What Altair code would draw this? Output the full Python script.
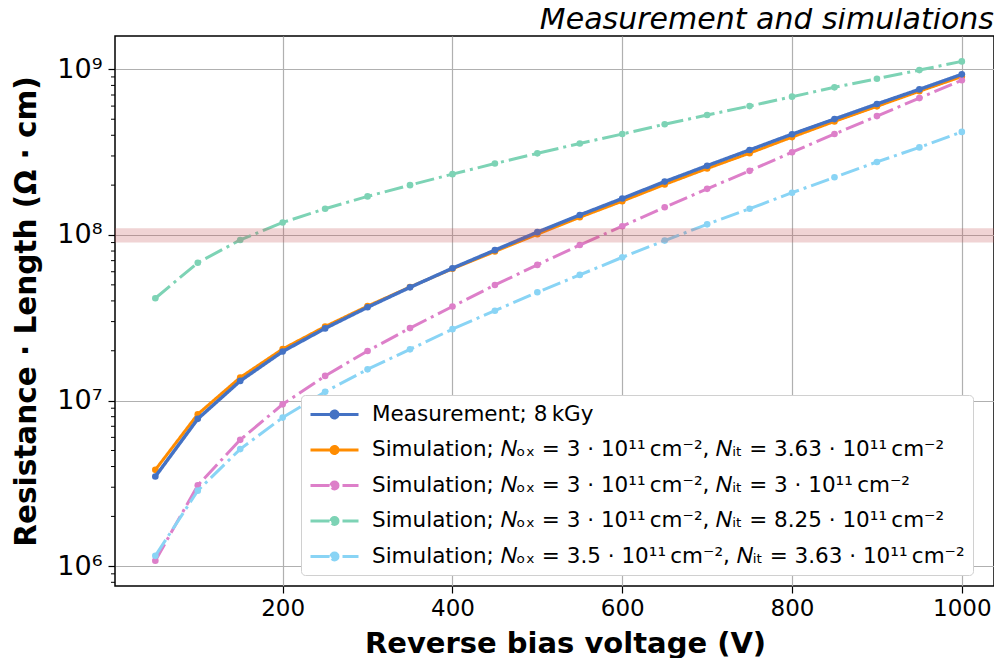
import altair as alt
import pandas as pd

# ---------------- data ----------------
voltage = [50, 100, 150, 200, 250, 300, 350, 400, 450, 500,
           550, 600, 650, 700, 750, 800, 850, 900, 950, 1000]

measurement = [3.48e6, 7.76e6, 1.315e7, 1.98e7, 2.73e7, 3.66e7, 4.83e7, 6.3e7, 8.1e7, 1.04e8,
               1.32e8, 1.66e8, 2.1e8, 2.62e8, 3.26e8, 4.06e8, 5.01e8, 6.18e8, 7.57e8, 9.33e8]
sim_ox3_it363 = [3.82e6, 8.28e6, 1.38e7, 2.05e7, 2.8e7, 3.72e7, 4.85e7, 6.25e7, 7.95e7, 1.01e8,
                 1.28e8, 1.6e8, 2.02e8, 2.52e8, 3.12e8, 3.9e8, 4.85e8, 5.98e8, 7.38e8, 9.05e8]
sim_ox3_it3 = [1.08e6, 3.08e6, 5.8e6, 9.5e6, 1.41e7, 1.995e7, 2.74e7, 3.7e7, 4.99e7, 6.6e7,
               8.7e7, 1.13e8, 1.47e8, 1.9e8, 2.44e8, 3.16e8, 4.07e8, 5.22e8, 6.71e8, 8.6e8]
sim_ox3_it825 = [4.15e7, 6.8e7, 9.33e7, 1.19e8, 1.44e8, 1.71e8, 2.0e8, 2.33e8, 2.7e8, 3.11e8,
                 3.57e8, 4.07e8, 4.66e8, 5.3e8, 6.0e8, 6.84e8, 7.79e8, 8.78e8, 9.9e8, 1.117e9]
sim_ox35_it363 = [1.156e6, 2.86e6, 5.1e6, 7.9e6, 1.13e7, 1.545e7, 2.04e7, 2.7e7, 3.49e7, 4.51e7,
                  5.74e7, 7.33e7, 9.25e7, 1.16e8, 1.44e8, 1.8e8, 2.23e8, 2.76e8, 3.38e8, 4.19e8]

series_labels = [
    "Measurement; 8\u2009kGy",
    "Simulation; \U0001D441\u2092\u2093 = 3 \u00b7 10\u00b9\u00b9\u2009cm\u207b\u00b2, \U0001D441\u1d62\u209c = 3.63 \u00b7 10\u00b9\u00b9\u2009cm\u207b\u00b2",
    "Simulation; \U0001D441\u2092\u2093 = 3 \u00b7 10\u00b9\u00b9\u2009cm\u207b\u00b2, \U0001D441\u1d62\u209c = 3 \u00b7 10\u00b9\u00b9\u2009cm\u207b\u00b2",
    "Simulation; \U0001D441\u2092\u2093 = 3 \u00b7 10\u00b9\u00b9\u2009cm\u207b\u00b2, \U0001D441\u1d62\u209c = 8.25 \u00b7 10\u00b9\u00b9\u2009cm\u207b\u00b2",
    "Simulation; \U0001D441\u2092\u2093 = 3.5 \u00b7 10\u00b9\u00b9\u2009cm\u207b\u00b2, \U0001D441\u1d62\u209c = 3.63 \u00b7 10\u00b9\u00b9\u2009cm\u207b\u00b2",
]
series_values = [measurement, sim_ox3_it363, sim_ox3_it3, sim_ox3_it825, sim_ox35_it363]
series_colors = ["#4472C4", "#FF8C00", "#DD7FC9", "#7DD3B5", "#89D4F5"]
series_dashes = [[1, 0], [1, 0], [19, 5, 3, 5], [19, 5, 3, 5], [19, 5, 3, 5]]
draw_order = [1, 2, 3, 4, 0]

band_limits = [9e7, 1.1e8]

x_ticks = [200, 400, 600, 800, 1000]
y_ticks = [1e6, 1e7, 1e8, 1e9]
y_tick_labels = ["10\u2076", "10\u2077", "10\u2078", "10\u2079"]
y_minor_ticks = [8e5, 9e5] + [m * 10 ** e for e in (6, 7, 8) for m in range(2, 10)]

x_domain = [2.5, 1037.9]
y_domain = [7.6e5, 1.59e9]

FONT = "DejaVu Sans"
W, H = 879, 550

# ---------------- frames ----------------
rows = []
for lab, vals in zip(series_labels, series_values):
    for v, r in zip(voltage, vals):
        rows.append({"series": lab, "V": v, "R": r})
df = pd.DataFrame(rows)

band_df = pd.DataFrame({"R": [band_limits[0]], "R2": [band_limits[1]]})
minor_df = pd.DataFrame({"R": y_minor_ticks})

label_expr = ""
for v, lab in zip(y_ticks[:-1], y_tick_labels[:-1]):
    label_expr += f"datum.value < {v * 3} ? '{lab}' : "
label_expr += f"'{y_tick_labels[-1]}'"

x_enc = alt.X("V:Q", scale=alt.Scale(domain=x_domain, nice=False, zero=False),
              axis=alt.Axis(values=x_ticks, format="d", title="Reverse bias voltage (V)",
                            labelFontSize=23, titleFontSize=29, titleFontWeight="bold",
                            tickSize=7, labelPadding=4, titlePadding=9, titleX=450,
                            grid=True))
y_axis = alt.Axis(values=y_ticks, labelExpr=label_expr,
                  title="Resistance \u00b7 Length (\u03a9 \u00b7 cm)",
                  labelFontSize=27, titleFontSize=29.5, titleFontWeight="bold",
                  tickSize=7, labelPadding=6, titlePadding=15, grid=True)
y_scale = alt.Scale(type="log", domain=y_domain, nice=False)
y_enc = alt.Y("R:Q", scale=y_scale, axis=y_axis)

legend = alt.Legend(
    title=None, orient="none", legendX=186, legendY=359,
    labelFontSize=21.5, labelFont=FONT, labelColor="black", labelLimit=0,
    symbolType="M-2.4,0L2.4,0M-0.35,0A0.35,0.35,0,1,1,0.35,0A0.35,0.35,0,1,1,-0.35,0Z",
    symbolSize=400, symbolStrokeWidth=3, symbolOffset=14, labelOffset=26, rowPadding=13.5,
    padding=8, fillColor="white", strokeColor="#d0d0d0", cornerRadius=4,
)
color_enc = alt.Color("series:N", scale=alt.Scale(domain=series_labels, range=series_colors),
                      legend=legend)
dash_enc = alt.StrokeDash("series:N", scale=alt.Scale(domain=series_labels, range=series_dashes),
                          legend=legend)

base = alt.Chart(df)
layers = []
for i in draw_order:
    sw = 3.5 if i == 0 else 3
    layers.append(
        base.transform_filter(alt.datum.series == series_labels[i])
        .mark_line(strokeWidth=sw, point=alt.OverlayMarkDef(filled=True, size=44))
        .encode(x=x_enc, y=y_enc, color=color_enc, strokeDash=dash_enc)
    )

band = alt.Chart(band_df).mark_rect(color="#c44e52", opacity=0.25).encode(
    y=y_enc, y2="R2:Q", x=alt.value(0), x2=alt.value(W)
)
minor = alt.Chart(minor_df).mark_rule(color="black", strokeWidth=1).encode(
    y=y_enc, x=alt.value(0), x2=alt.value(-4)
)

chart = alt.layer(*layers, band, minor).properties(
    width=W, height=H,
    title=alt.TitleParams("Measurement and simulations", anchor="end", fontStyle="italic",
                          fontWeight="normal", fontSize=30, font=FONT, color="black", offset=1),
    autosize=alt.AutoSizeParams(type="none"),
    padding={"left": 107, "top": 28, "right": 0, "bottom": 72},
).configure(font=FONT).configure_axis(
    labelFont=FONT, titleFont=FONT, labelColor="black", titleColor="black",
    tickColor="black", tickWidth=1.2, domain=False, gridColor="#b0b0b0", gridWidth=1.2,
).configure_view(stroke="black", strokeWidth=1.5)

chart.save("out.html", embed_options={"renderer": "svg", "actions": False})
